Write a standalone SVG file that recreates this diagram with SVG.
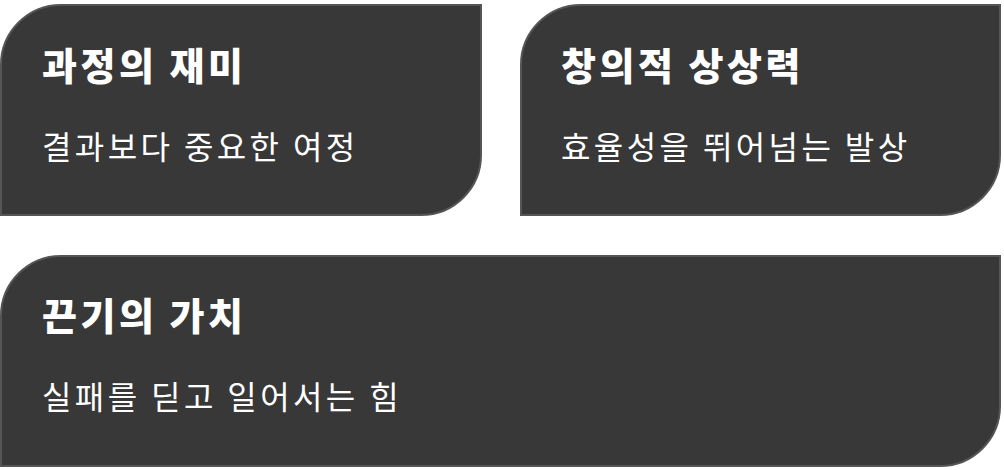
<svg xmlns="http://www.w3.org/2000/svg" width="1004" height="470" viewBox="0 0 1004 470">
<style>
.card{fill:#383838;stroke:#555;stroke-width:2}
.t{fill:#fff;font-family:"Noto Sans CJK KR",sans-serif;font-weight:900;font-size:38px;letter-spacing:3.5px}
.s{fill:#fff;font-family:"Noto Sans CJK KR",sans-serif;font-weight:400;font-size:32px;letter-spacing:3.4px}
</style>
<rect width="1004" height="470" fill="#fff"/>
<g id="card1"><path class="card" d="M61 5H481V155A60 60 0 0 1 421 215H1V65A60 60 0 0 1 61 5Z"/>
<text class="t" x="42" y="80">과정의 재미</text><text class="s" x="42" y="159">결과보다 중요한 여정</text></g>
<g id="card2"><path class="card" d="M581 5H1000V155A60 60 0 0 1 940 215H521V65A60 60 0 0 1 581 5Z"/>
<text class="t" x="561" y="80">창의적 상상력</text><text class="s" x="561" y="159">효율성을 뛰어넘는 발상</text></g>
<g id="card3"><path class="card" d="M61 256H1000V406A60 60 0 0 1 940 466H1V316A60 60 0 0 1 61 256Z"/>
<text class="t" x="42" y="330">끈기의 가치</text><text class="s" x="42" y="409">실패를 딛고 일어서는 힘</text></g>
<g id="connectors"/>
</svg>
